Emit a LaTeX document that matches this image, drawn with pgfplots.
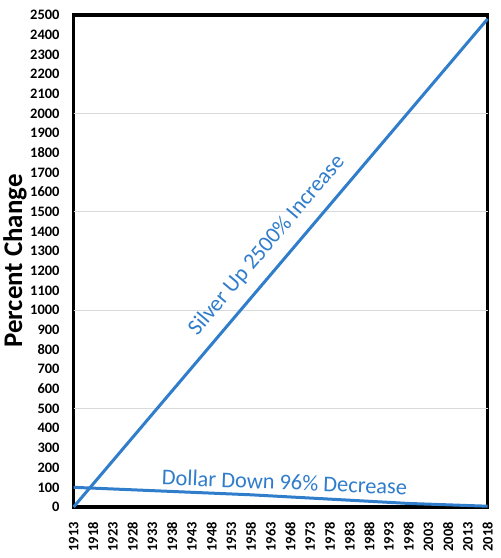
\documentclass[border=0pt]{standalone}
\usepackage{pgfplots}
\pgfplotsset{compat=1.18}
\usepackage{fontspec}
\setmainfont{Carlito}
\definecolor{lineblue}{HTML}{2F7DCB}
\begin{document}
\begin{tikzpicture}
\begin{axis}[
  scale only axis,
  width=414bp, height=492bp,
  every axis/.append style={line width=3.6bp},
  xmin=1913, xmax=2018,
  ymin=0, ymax=2500,
  xtick={1913,1918,...,2018},
  ytick={0,100,...,2500},
  extra y ticks={500,1000,1500,2000},
  extra y tick labels={},
  extra y tick style={grid=major, major grid style={black!15, line width=1.3bp}},
  major tick length=0pt,
  ticklabel style={font=\fontsize{14.5}{16}\selectfont\bfseries},
  /pgf/number format/assume math mode=true,
  /pgf/number format/1000 sep={},
  yticklabel style={xshift=-9bp},
  xticklabel style={rotate=90, anchor=east, xshift=-10bp},
  ylabel={Percent Change},
  ylabel style={font=\fontsize{27}{30}\selectfont\bfseries, yshift=-5bp},
  clip=false,
]
\addplot[lineblue, line width=3bp] coordinates {(1913,0) (2018,2480)};
\addplot[lineblue, line width=3bp] coordinates {(1913,100) (1958,62) (1998,18) (2018,4)};
\node[lineblue, rotate=49.7, font=\fontsize{22.5}{25}\selectfont] at (axis cs:1962,1330) {Silver Up 2500\% Increase};
\node[lineblue, rotate=-2.4, font=\fontsize{22.5}{25}\selectfont] at (axis cs:1966.5,127) {Dollar Down 96\% Decrease};
\path (rel axis cs:1,1) ++(13bp,15bp);
\path (rel axis cs:0,0) ++(0bp,-51bp);
\end{axis}
\end{tikzpicture}
\end{document}
